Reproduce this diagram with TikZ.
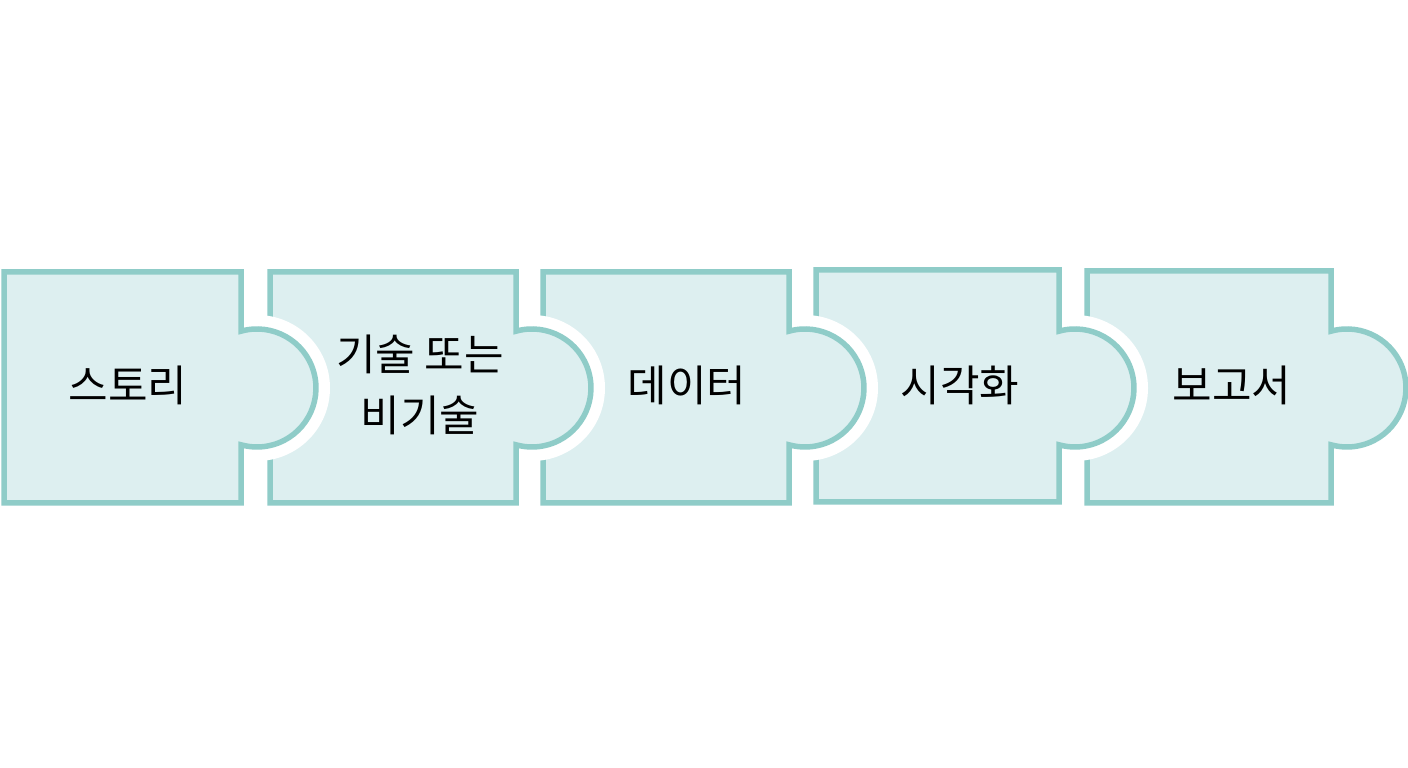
\documentclass[tikz,border=0pt]{standalone}
\usepackage{fontspec}
\setmainfont{Noto Sans CJK KR}
\definecolor{pborder}{RGB}{143,204,200}
\definecolor{pfill}{RGB}{221,239,240}
\tikzset{
  piecestyle/.style={draw=pborder, fill=pfill, line width=5.5pt, line join=miter},
  lbl/.style={font=\fontsize{43}{61}\selectfont, align=center, text=black, inner sep=0pt}
}
\newcommand\puzzlepiece[4]{% left right top bottom (y up)
  \fill[white] (#2+16,380) circle (73pt);
  \draw[piecestyle] (#1,#3) -- (#2,#3) -- (#2,380+56.8)
    arc[start angle=105.7,end angle=-105.7,radius=59pt] -- (#2,#4) -- (#1,#4) -- cycle;
}
\begin{document}
\begin{tikzpicture}[x=1pt,y=1pt]
\useasboundingbox (0,0) rectangle (1408,768);
\fill[white] (0,0) rectangle (1408,768);
\puzzlepiece{1087}{1331}{497}{265}
\puzzlepiece{816}{1059}{498}{266}
\puzzlepiece{543}{789}{496}{265}
\puzzlepiece{270}{516}{496}{265}
\puzzlepiece{4}{241}{496}{265}
\node[lbl] (t1) at (128,383) {스토리};
\node[lbl] (t2) at (420,383) {기술 또는\\비기술};
\node[lbl] (t3) at (687,383) {데이터};
\node[lbl] (t4) at (960,383) {시각화};
\node[lbl] (t5) at (1232,383) {보고서};
\end{tikzpicture}
\end{document}
